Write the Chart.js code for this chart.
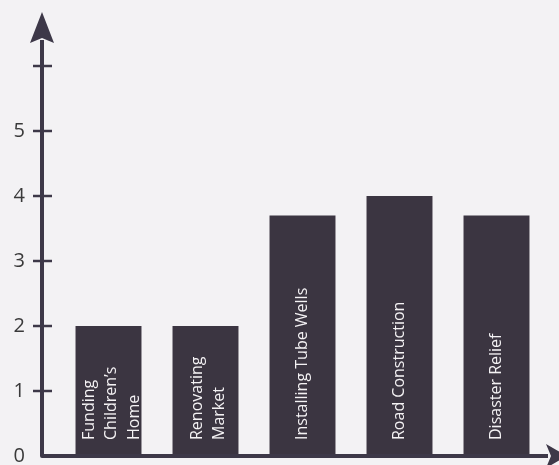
<!DOCTYPE html>
<html><head><meta charset="utf-8">
<script src="https://cdn.jsdelivr.net/npm/chart.js@4/dist/chart.umd.min.js"></script>
<style>
html,body{margin:0;padding:0;background:#f3f2f4;}
#wrap{width:559px;height:465px;position:relative;}
</style></head>
<body><div id="wrap"><canvas id="c" width="559" height="465"></canvas></div>
<script>
const categories = ["Funding Children's Home","Renovating Market","Installing Tube Wells","Road Construction","Disaster Relief"];
const barLabelLines = [["Funding","Children\u2019s","Home"],["Renovating","Market"],["Installing Tube Wells"],["Road Construction"],["Disaster Relief"]];
const values = [2, 2, 3.7, 4, 3.7];
const tickMarks = [1, 2, 3, 4, 5, 6];
const maxLabeledTick = 5;

const AXIS = '#3d3848';
const BAR = '#3b3541';

const axesPlugin = {
  id: 'axesPlugin',
  afterDatasetsDraw(chart) {
    const ctx = chart.ctx, y = chart.scales.y, area = chart.chartArea;
    const ax = area.left - 18;
    const base = y.getPixelForValue(0);
    ctx.save();
    ctx.strokeStyle = AXIS; ctx.fillStyle = AXIS;
    ctx.lineWidth = 4; ctx.lineJoin = 'round';
    ctx.beginPath();
    ctx.moveTo(ax, 40); ctx.lineTo(ax, base); ctx.lineTo(548, base);
    ctx.stroke();
    ctx.lineWidth = 2.5;
    tickMarks.forEach(v => {
      const py = y.getPixelForValue(v);
      ctx.beginPath(); ctx.moveTo(ax - 9, py); ctx.lineTo(ax + 10, py); ctx.stroke();
    });
    ctx.beginPath();
    ctx.moveTo(ax, 12); ctx.lineTo(ax + 12, 43); ctx.lineTo(ax, 38); ctx.lineTo(ax - 12, 43); ctx.closePath(); ctx.fill();
    ctx.beginPath();
    ctx.moveTo(567, base); ctx.lineTo(546, base - 12); ctx.lineTo(551, base); ctx.lineTo(546, base + 12); ctx.closePath(); ctx.fill();
    const meta = chart.getDatasetMeta(0);
    ctx.fillStyle = '#f4f2f4';
    ctx.font = '16px "Open Sans", sans-serif';
    ctx.textAlign = 'left'; ctx.textBaseline = 'middle';
    meta.data.forEach((bar, i) => {
      const lines = barLabelLines[i];
      const n = lines.length;
      const step = 22.5;
      const shift = n > 1 ? 3 : 0;
      lines.forEach((t, j) => {
        const cx = bar.x + shift + (j - (n - 1) / 2) * step;
        ctx.save();
        ctx.translate(cx, base - 16);
        ctx.rotate(-Math.PI / 2);
        ctx.fillText(t, 0, 0);
        ctx.restore();
      });
    });
    ctx.restore();
  }
};

new Chart(document.getElementById('c'), {
  type: 'bar',
  data: { labels: categories, datasets: [{ data: values, backgroundColor: BAR, borderWidth: 0,
    categoryPercentage: 1.0, barPercentage: 0.68 }] },
  options: {
    responsive: false, animation: false,
    layout: { padding: { left: 0, right: 14, top: 14, bottom: 9 } },
    plugins: { legend: { display: false }, tooltip: { enabled: false } },
    scales: {
      x: { display: false },
      y: {
        min: 0, max: 6.8,
        afterFit(s) { s.width = 60; s.paddingTop = 0; s.paddingBottom = 0; },
        grid: { display: false }, border: { display: false },
        ticks: { stepSize: 1, padding: 27, color: '#3a3a3a',
          font: { family: '"Open Sans", sans-serif', size: 20 },
          callback: v => (Number.isInteger(v) && v <= maxLabeledTick) ? String(v) : '' }
      }
    }
  },
  plugins: [axesPlugin]
});
</script></body></html>
